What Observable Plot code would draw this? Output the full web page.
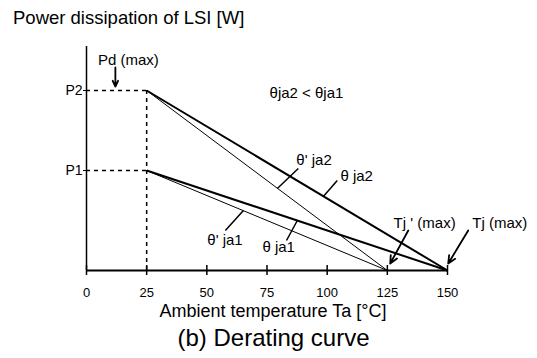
<!DOCTYPE html>
<html>
<head>
<meta charset="utf-8">
<script src="https://cdn.jsdelivr.net/npm/d3@7"></script>
<script src="https://cdn.jsdelivr.net/npm/@observablehq/plot@0.6"></script>
<style>
  html, body { margin: 0; padding: 0; background: #fff; }
  body { width: 537px; height: 358px; overflow: hidden; font-family: Arial, "Liberation Sans", sans-serif; color: #000; }
  #title { height: 30px; box-sizing: border-box; padding: 8px 0 0 13px; font-size: 18.5px; line-height: 20px; white-space: nowrap; }
  #caption { height: 34px; text-align: center; font-size: 24px; line-height: 28px; padding-left: 10px; white-space: nowrap; }
  #chart svg { display: block; }
</style>
</head>
<body>
<div id="title">Power dissipation of LSI [W]</div>
<div id="chart"></div>
<div id="caption">(b) Derating curve</div>
<script>
// ---- data ----
const xTicks = [0, 25, 50, 75, 100, 125, 150];
const yTickValues = [1.0, 1.8];
const yTickNames = ["P1", "P2"];
const xLabel = "Ambient temperature Ta [\u00B0C]";

// derating curves: start (25 °C, Pd max) to end (Tj max)
const curveNames = ["\u03B8 ja2", "\u03B8' ja2", "\u03B8 ja1", "\u03B8' ja1"];
const curveStartT = [25, 25, 25, 25];
const curveStartP = [1.8, 1.8, 1.0, 1.0];
const curveEndT = [150, 125, 150, 125];
const curveEndP = [0, 0, 0, 0];

// leader lines for curve labels
const leaderT1 = [98.4, 79.3, 83.1, 57.7];
const leaderP1 = [0.74, 0.82, 0.30, 0.40];
const leaderT2 = [104.2, 88.0, 87.6, 65.2];
const leaderP2 = [0.90, 1.02, 0.50, 0.60];
const labelT = [105.5, 87.2, 73.1, 50.2];
const labelP = [0.94, 1.10, 0.23, 0.30];

// other annotations (centred)
const noteTexts = ["\u03B8ja2 < \u03B8ja1", "Pd (max)", "Tj ' (max)", "Tj (max)"];
const noteT = [91.4, 17.4, 140.5, 171.7];
const noteP = [1.77, 2.10, 0.47, 0.47];

// arrows
const arrowT1 = [12.0, 133.7, 158.6];
const arrowP1 = [2.03, 0.40, 0.40];
const arrowT2 = [12.0, 126.2, 150.3];
const arrowP2 = [1.84, 0.07, 0.07];

// ---- tables ----
const curves = curveNames.map((n, i) => ({name: n, t1: curveStartT[i], p1: curveStartP[i], t2: curveEndT[i], p2: curveEndP[i], thin: n.includes("'")}));
const leaders = curveNames.map((n, i) => ({name: n, t1: leaderT1[i], p1: leaderP1[i], t2: leaderT2[i], p2: leaderP2[i], lt: labelT[i], lp: labelP[i]}));
const notes = noteTexts.map((s, i) => ({text: s, t: noteT[i], p: noteP[i]}));
const arrows = arrowT1.map((t, i) => ({t1: t, p1: arrowP1[i], t2: arrowT2[i], p2: arrowP2[i]}));

const chart = Plot.plot({
  width: 537,
  height: 294,
  marginLeft: 86,
  marginRight: 90,
  marginTop: 16,
  marginBottom: 54,
  x: {domain: [0, 150]},
  y: {domain: [0, 2.24]},
  style: {fontFamily: "Arial, 'Liberation Sans', sans-serif", fontSize: "15px", background: "white", color: "black", overflow: "visible"},
  marks: [
    // dashed guide lines
    Plot.ruleY(yTickValues, {y: d => d, x1: 0, x2: 25, strokeDasharray: "4,4", strokeWidth: 1.5}),
    Plot.ruleX([25], {x: d => d, y1: 0, y2: yTickValues[1], strokeDasharray: "4,4", strokeWidth: 1.5}),
    // axes lines
    Plot.ruleY([0], {y: d => d, x1: 0, x2: 150, strokeWidth: 2}),
    Plot.ruleX([0], {x: d => d, y1: 0, y2: 2.24, strokeWidth: 1.5}),
    Plot.ruleX(xTicks, {x: d => d, y1: -0.05, y2: 0.05, strokeWidth: 1.5}),
    Plot.axisX({ticks: xTicks, tickSize: 0, tickPadding: 17, fontSize: 13, label: null}),
    Plot.axisY({ticks: yTickValues, tickFormat: d => yTickNames[yTickValues.indexOf(d)], tickSize: 3, tickPadding: 1, fontSize: 14, label: null}),
    Plot.text([xLabel], {text: d => d, frameAnchor: "bottom", dy: 46, dx: 6, fontSize: 18}),
    // curves
    Plot.link(curves, {x1: "t1", y1: "p1", x2: "t2", y2: "p2", stroke: "black", strokeWidth: d => d.thin ? 1 : 2}),
    // leaders and labels
    Plot.link(leaders, {x1: "t1", y1: "p1", x2: "t2", y2: "p2", stroke: "black", strokeWidth: 1.5}),
    Plot.text(leaders, {x: "lt", y: "lp", text: "name", textAnchor: "start", fontSize: 15}),
    // notes
    Plot.text(notes, {x: "t", y: "p", text: "text", fontSize: 15}),
    Plot.arrow(arrows, {x1: "t1", y1: "p1", x2: "t2", y2: "p2", stroke: "black", strokeWidth: 1.8, headLength: 7, headAngle: 50})
  ]
});
document.getElementById("chart").appendChild(chart);
</script>
</body>
</html>
